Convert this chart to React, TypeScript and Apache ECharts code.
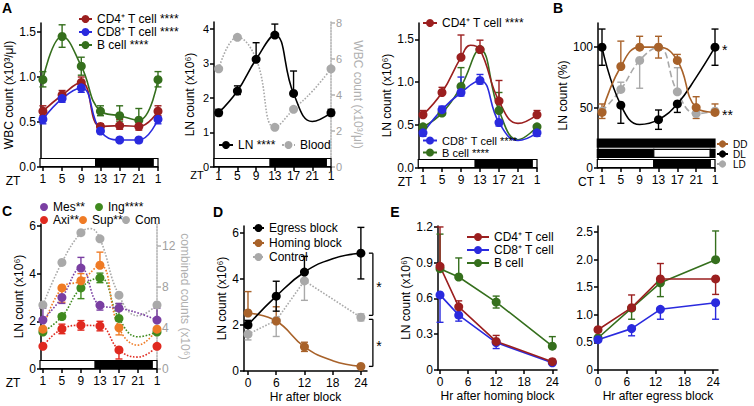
import React, { useEffect, useRef } from "react";
import * as echarts from "echarts";

const FONT = "'Liberation Sans', Arial, Helvetica, sans-serif";

// ---------- colours ----------
const C_CD4 = "#9b1f1f";
const C_CD8 = "#2a2ade";
const C_B = "#356f1d";
const C_GRAY = "#a9a9a9";
const C_BROWN = "#a8622a";
const C_MES = "#7a3fa2";
const C_ING = "#3f8a1e";
const C_AXI = "#e0291f";
const C_SUP = "#ef7b25";

// ---------- tick values ----------
const ztTicks = [1, 5, 9, 13, 17, 21, 25];
const hrTicks = [0, 6, 12, 18, 24];

// ---------- light / dark schedules [startZT, endZT, dark] ----------
const schedLD = [[0, 12, 0], [12, 24, 1], [24, 25, 0]];
const schedDL = [[0, 12, 1], [12, 24, 0], [24, 25, 1]];
const schedDD = [[0, 25, 1]];

// ---------- Panel A1: blood WBC ----------
const a1X = [1, 5, 9, 13, 17, 21, 25];
const a1Cd4 = [0.62, 0.8, 0.94, 0.45, 0.46, 0.45, 0.62];
const a1Cd4Lo = [0.05, 0.04, 0.05, 0.02, 0.04, 0.04, 0.05];
const a1Cd4Hi = [0.06, 0.05, 0.06, 0.03, 0.07, 0.06, 0.06];
const a1Cd8 = [0.53, 0.76, 0.88, 0.4, 0.3, 0.3, 0.53];
const a1Cd8Lo = [0.05, 0.04, 0.05, 0.03, 0.02, 0.03, 0.05];
const a1Cd8Hi = [0.03, 0.03, 0.04, 0.02, 0.02, 0.02, 0.03];
const a1B = [0.97, 1.45, 1.12, 0.62, 0.57, 0.52, 0.97];
const a1BLo = [0.08, 0.12, 0.1, 0.05, 0.06, 0.05, 0.08];
const a1BHi = [0.09, 0.13, 0.1, 0.06, 0.11, 0.13, 0.09];

// ---------- Panel A2: LN vs blood ----------
const a2LnX = [1, 5, 9, 13, 17, 25];
const a2Ln = [1.57, 2.2, 3.12, 3.82, 2.13, 1.57];
const a2LnLo = [0.08, 0.1, 0, 0, 0, 0.08];
const a2LnHi = [0.1, 0.15, 0.48, 0.32, 0.65, 0.1];
const a2LnFitX = [21];
const a2LnFitY = [1.32];
const a2BloodX = [1, 5, 13, 17, 25];
const a2Blood = [5.45, 7.2, 2.2, 3.2, 5.45];
const a2BloodFitX = [9, 21];
const a2BloodFitY = [6.0, 4.2];

// ---------- Panel A3: LN subsets ----------
const a3X = [1, 5, 9, 13, 17, 25];
const a3Cd4 = [0.62, 0.88, 1.29, 1.38, 0.78, 0.62];
const a3Cd4Lo = [0, 0, 0, 0, 0, 0];
const a3Cd4Hi = [0.05, 0.06, 0.26, 0.11, 0.24, 0.05];
const a3Cd4FitX = [11, 21];
const a3Cd4FitY = [1.43, 0.52];
const a3Cd8 = [0.41, 0.68, 0.88, 1.02, 0.53, 0.41];
const a3Cd8Lo = [0.04, 0.03, 0.04, 0.04, 0.04, 0.04];
const a3Cd8Hi = [0, 0.04, 0.18, 0.07, 0.15, 0];
const a3Cd8FitX = [21];
const a3Cd8FitY = [0.32];
const a3B = [0.48, 0.64, 0.95, 1.38, 0.67, 0.48];
const a3BLo = [0, 0.02, 0, 0, 0, 0];
const a3BHi = [0, 0, 0.22, 0, 0.21, 0];
const a3BFitX = [21];
const a3BFitY = [0.33];

// ---------- Panel B: DD / DL / LD ----------
const bX = [1, 5, 9, 13, 17, 21, 25];
const bDD = [46, 84, 100, 100, 89, 50, 46];
const bDDLo = [5, 0, 0, 9, 0, 9, 0];
const bDDHi = [7, 21, 9, 9, 5, 9, 7];
const bDLX = [1, 5, 13, 17, 25];
const bDL = [100, 52, 40, 53, 100];
const bDLLo = [15, 15, 8, 7, 15];
const bDLHi = [15, 0, 8, 0, 15];
const bDLFitX = [9, 21];
const bDLFitY = [36, 75];
const bLD = [47, 65, 89, 100, 63, 45, 47];
const bLDLo = [0, 0, 23, 0, 0, 0, 0];
const bLDHi = [0, 6, 0, 0, 20, 0, 0];

// ---------- Panel C: individual LNs ----------
const cX = [1, 5, 9, 13, 17, 25];
const cMes = [2.05, 3.0, 4.23, 2.67, 2.55, 2.05];
const cMesLo = [0, 0.25, 0, 0.2, 0, 0];
const cMesHi = [0.5, 0, 0.45, 0, 0.2, 0.5];
const cMesFitX = [21];
const cMesFitY = [2.35];
const cIng = [1.55, 2.2, 3.4, 3.82, 2.12, 1.55];
const cIngLo = [0, 0.1, 0.45, 0.2, 0, 0];
const cIngHi = [0, 0.1, 0, 0.2, 0.62, 0];
const cIngFitX = [21];
const cIngFitY = [1.35];
const cAxi = [0.95, 1.68, 1.83, 1.8, 0.8, 0.95];
const cAxiLo = [0.05, 0.2, 0.2, 0.2, 0.38, 0.05];
const cAxiHi = [0.05, 0.2, 0.2, 0.2, 0, 0.05];
const cAxiFitX = [21];
const cAxiFitY = [0.5];
const cSup = [1.67, 3.4, 3.7, 4.35, 1.73, 1.67];
const cSupLo = [0, 0.6, 0, 0, 0.3, 0];
const cSupHi = [0, 0, 0.3, 0.55, 0, 0];
const cSupFitX = [21];
const cSupFitY = [1.0];
const cCom = [6.25, 10.4, 13.3, 12.7, 7.2, 6.25];
const cComFitX = [11, 21];
const cComFitY = [13.7, 5.2];

// ---------- Panel D: egress / homing block ----------
const dX = [0, 6, 12, 24];
const dEg = [2.0, 3.25, 4.3, 5.12];
const dEgLo = [0, 0.65, 0, 1.12];
const dEgHi = [0.2, 0.65, 0.68, 1.12];
const dEgFitX = [18];
const dEgFitY = [4.88];
const dHo = [2.52, 2.17, 1.05, 0.2];
const dHoLo = [0, 0, 0.2, 0];
const dHoHi = [0.93, 0.62, 0.2, 0];
const dHoFitX = [18];
const dHoFitY = [0.45];
const dCt = [1.6, 2.2, 3.92, 2.33];
const dCtLo = [0.25, 0.7, 0.85, 0.15];
const dCtHi = [0.25, 0, 0, 0.15];
const dBrackets = [[24, 5.12, 2.33, 0], [24, 2.33, 0.2, 1]];

// ---------- Panel E1: after homing block ----------
const e1X = [0, 4, 12, 24];
const e1Cd4 = [0.87, 0.53, 0.24, 0.07];
const e1Cd4Lo = [0, 0, 0, 0];
const e1Cd4Hi = [0.33, 0.05, 0.05, 0.02];
const e1Cd8 = [0.63, 0.46, 0.23, 0.06];
const e1Cd8Lo = [0.23, 0.05, 0.05, 0.01];
const e1Cd8Hi = [0, 0, 0, 0];
const e1B = [0.85, 0.78, 0.57, 0.2];
const e1BLo = [0, 0, 0.05, 0];
const e1BHi = [0.29, 0.16, 0.05, 0.08];

// ---------- Panel E2: after egress block ----------
const e2X = [0, 7, 13, 24.5];
const e2Cd4 = [0.73, 1.13, 1.65, 1.65];
const e2Cd4Lo = [0.03, 0, 0, 0.28];
const e2Cd4Hi = [0.03, 0.23, 0.28, 0];
const e2Cd8 = [0.55, 0.75, 1.1, 1.22];
const e2Cd8Lo = [0.02, 0.13, 0.18, 0.3];
const e2Cd8Hi = [0, 0, 0, 0];
const e2B = [0.58, 1.12, 1.58, 2.0];
const e2BLo = [0, 0.2, 0.25, 0];
const e2BHi = [0, 0, 0, 0.52];

// ================= helpers =================
const ztFmt = (v: number) => (v === 25 ? "1" : String(v));
const fix1 = (v: number) => (v === 0 ? "0" : v.toFixed(1));

function xAxis(gi: number, min: number, max: number, ticks: number[], fmt: any, extra: any = {}) {
  return {
    type: "value",
    gridIndex: gi,
    min,
    max,
    axisLine: { show: true, onZero: false, lineStyle: { color: "#000", width: 1.5 } },
    axisTick: { show: true, customValues: ticks, length: 4, lineStyle: { color: "#000", width: 1.5 } },
    axisLabel: { customValues: ticks, formatter: fmt, color: "#000", fontSize: 12, fontFamily: FONT, margin: extra.labelMargin ?? 6 },
    splitLine: { show: false },
    name: extra.name,
    nameLocation: "middle",
    nameGap: extra.nameGap ?? 20,
    nameTextStyle: { color: "#000", fontSize: 12, fontFamily: FONT },
  };
}

function yAxis(gi: number, min: number, max: number, ticks: number[], fmt: any, extra: any = {}) {
  const color = extra.color ?? "#000";
  return {
    type: "value",
    gridIndex: gi,
    position: extra.position ?? "left",
    min,
    max,
    axisLine: { show: true, onZero: false, lineStyle: { color, width: 1.5, type: extra.lineType ?? "solid" } },
    axisTick: { show: true, customValues: ticks, length: 4, lineStyle: { color, width: 1.5 } },
    axisLabel: { customValues: ticks, formatter: fmt, color: extra.labelColor ?? color, fontSize: extra.fontSize ?? 12, fontFamily: FONT, margin: 5 },
    splitLine: { show: false },
    name: extra.name,
    nameLocation: "middle",
    nameGap: extra.nameGap ?? 24,
    nameRotate: extra.nameRotate,
    nameTextStyle: { color: extra.nameColor ?? color, fontSize: 12, fontFamily: FONT },
  };
}

function lineSeries(name: string, xi: number, yi: number, xs: number[], ys: number[], fx: number[] | null, fy: number[] | null, color: string, type: string, smooth: any) {
  const pts: any[] = xs.map((x, i) => ({ value: [x, ys[i]] }));
  const fits: any[] = (fx || []).map((x, i) => ({ value: [x, (fy as number[])[i]], symbol: "none" }));
  const data = [...pts, ...fits].sort((a, b) => a.value[0] - b.value[0]);
  return {
    type: "line",
    name,
    xAxisIndex: xi,
    yAxisIndex: yi,
    data,
    smooth,
    symbol: "circle",
    symbolSize: 9,
    showSymbol: true,
    showAllSymbol: true,
    lineStyle: { color, width: 1.6, type },
    itemStyle: { color },
    emphasis: { disabled: true },
    silent: true,
    z: 3,
  };
}

const renderErr = (params: any, api: any) => {
  const x = api.value(0);
  const lo = api.coord([x, api.value(1)]);
  const hi = api.coord([x, api.value(2)]);
  const color = api.visual("color");
  const st = { stroke: color, lineWidth: 1.4 };
  const ch: any[] = [];
  if (api.value(3) || api.value(4)) {
    ch.push({ type: "line", shape: { x1: lo[0], y1: lo[1], x2: hi[0], y2: hi[1] }, style: st });
  }
  if (api.value(3)) ch.push({ type: "line", shape: { x1: lo[0] - 3.5, y1: lo[1], x2: lo[0] + 3.5, y2: lo[1] }, style: st });
  if (api.value(4)) ch.push({ type: "line", shape: { x1: hi[0] - 3.5, y1: hi[1], x2: hi[0] + 3.5, y2: hi[1] }, style: st });
  return { type: "group", children: ch };
};

function errSeries(xi: number, yi: number, xs: number[], ys: number[], lo: number[], hi: number[], color: string) {
  return {
    type: "custom",
    xAxisIndex: xi,
    yAxisIndex: yi,
    renderItem: renderErr,
    itemStyle: { color },
    data: xs.map((x, i) => [x, ys[i] - lo[i], ys[i] + hi[i], lo[i] > 0 ? 1 : 0, hi[i] > 0 ? 1 : 0]),
    encode: { x: 0, y: [1, 2] },
    clip: false,
    silent: true,
    z: 2,
  };
}

const renderBar = (params: any, api: any) => {
  const cs = params.coordSys;
  const p0 = api.coord([api.value(0), 0]);
  const p1 = api.coord([api.value(1), 0]);
  const x0 = Math.max(p0[0], cs.x - 1);
  const x1 = Math.min(p1[0], cs.x + cs.width);
  const row = api.value(3);
  const bottom = p0[1] - 0.5 - row * 10.2;
  return {
    type: "rect",
    shape: { x: x0, y: bottom - 8, width: x1 - x0, height: 8 },
    style: { fill: api.value(2) ? "#000" : "#fff", stroke: "#000", lineWidth: 1.2 },
  };
};

function barSeries(xi: number, yi: number, sched: number[][], row: number) {
  return {
    type: "custom",
    xAxisIndex: xi,
    yAxisIndex: yi,
    renderItem: renderBar,
    data: sched.map((s) => [s[0], s[1], s[2], row]),
    encode: { x: [0, 1], y: 2 },
    clip: false,
    silent: true,
    z: 4,
  };
}

const renderBracket = (params: any, api: any) => {
  const p1 = api.coord([api.value(0), api.value(1)]);
  const p2 = api.coord([api.value(0), api.value(2)]);
  const lower = api.value(3);
  const x = p1[0] + 12;
  const y1 = p1[1] + (lower ? 2 : 0);
  const y2 = p2[1] - (lower ? 0 : 2);
  const st = { stroke: "#000", lineWidth: 1.3 };
  return {
    type: "group",
    children: [
      { type: "line", shape: { x1: x, y1, x2: x, y2 }, style: st },
      { type: "line", shape: { x1: x - 4, y1, x2: x, y2: y1 }, style: st },
      { type: "line", shape: { x1: x - 4, y1: y2, x2: x, y2 }, style: st },
      { type: "text", x: x + 6, y: (y1 + y2) / 2 + 3, style: { text: "*", fill: "#000", font: `14px ${FONT}`, align: "center", verticalAlign: "middle" } },
    ],
  };
};

function leg(name: string, left: number, top: number, w: number, h: number, icon?: string, fontSize = 12) {
  return {
    show: true,
    left,
    top,
    orient: "horizontal",
    padding: 0,
    itemGap: 0,
    itemWidth: w,
    itemHeight: h,
    selectedMode: false,
    textStyle: { fontSize, color: "#000", fontFamily: FONT },
    data: [icon ? { name, icon } : name],
  };
}

function txt(text: string, x: number, y: number, opts: any = {}) {
  return {
    type: "text",
    x,
    y,
    silent: true,
    style: {
      text,
      fill: opts.fill ?? "#000",
      font: `${opts.bold ? "bold " : ""}${opts.size ?? 12}px ${FONT}`,
      align: opts.align ?? "center",
      verticalAlign: "middle",
    },
  };
}

function buildOption() {
  const grids = [
    { left: 41, top: 23, width: 117, height: 144 }, // A1
    { left: 214, top: 22, width: 117, height: 145 }, // A2
    { left: 419, top: 23, width: 118, height: 145 }, // A3
    { left: 598, top: 23, width: 117, height: 145 }, // B
    { left: 41, top: 224, width: 116, height: 145 }, // C
    { left: 244, top: 226, width: 123, height: 145 }, // D
    { left: 438, top: 226, width: 119, height: 144 }, // E1
    { left: 598, top: 226, width: 120, height: 144 }, // E2
  ].map((g) => ({ ...g, containLabel: false, outerBoundsMode: "none" }));

  const xAxes = [
    xAxis(0, 0.6, 25, ztTicks, ztFmt),
    xAxis(1, 0, 25, ztTicks, ztFmt, { labelMargin: 3 }),
    xAxis(2, 0.16, 25, ztTicks, ztFmt),
    xAxis(3, 0.15, 25, ztTicks, ztFmt),
    xAxis(4, 0.6, 25, ztTicks, ztFmt),
    xAxis(5, -0.85, 25.3, hrTicks, String, { name: "Hr after block", nameGap: 20 }),
    xAxis(6, -0.43, 25, hrTicks, String, { name: "Hr after homing block", nameGap: 20 }),
    xAxis(7, 0, 25, hrTicks, String, { name: "Hr after egress block", nameGap: 20 }),
  ];

  const yAxes = [
    yAxis(0, 0, 1.6, [0, 0.5, 1, 1.5], (v: number) => v.toFixed(1), { name: "WBC count (x10³/μl)", nameGap: 23 }),
    yAxis(1, 0, 4.2, [0, 1, 2, 3, 4], String, { name: "LN count (x10⁶)", nameGap: 18, fontSize: 11 }),
    yAxis(1, 0, 8.05, [0, 2, 4, 6, 8], String, {
      position: "right", color: "#b0b0b0", labelColor: "#a0a0a0", lineType: "dotted",
      name: "WBC count (x10³/μl)", nameGap: 21, nameRotate: -90, fontSize: 11,
    }),
    yAxis(2, 0, 1.69, [0, 0.5, 1, 1.5], (v: number) => v.toFixed(1), { name: "LN count (x10⁶)", nameGap: 23 }),
    yAxis(3, 0, 120, [0, 50, 100], String, { name: "LN count (%)", nameGap: 24 }),
    yAxis(4, 0, 6.08, [0, 2, 4, 6], String, { name: "LN count (x10⁶)", nameGap: 14 }),
    yAxis(4, 0, 14.15, [0, 4, 8, 12], String, {
      position: "right", color: "#b0b0b0", labelColor: "#a0a0a0", lineType: "dotted",
      name: "combined counts (x10⁶)", nameGap: 22, nameRotate: -90,
    }),
    yAxis(5, 0, 6.3, [0, 2, 4, 6], String, { name: "LN count (x10⁶)", nameGap: 12 }),
    yAxis(6, 0, 1.208, [0, 0.3, 0.6, 0.9, 1.2], fix1, { name: "LN count (x10⁶)", nameGap: 22 }),
    yAxis(7, 0, 2.61, [0, 0.5, 1, 1.5, 2, 2.5], fix1, {}),
  ];

  const S = 0.45;
  const series: any[] = [
    // light/dark bars
    barSeries(0, 0, schedLD, 0),
    barSeries(1, 1, schedLD, 0),
    barSeries(2, 3, schedLD, 0),
    barSeries(3, 4, schedLD, 0),
    barSeries(3, 4, schedDL, 1),
    barSeries(3, 4, schedDD, 2),
    barSeries(4, 5, schedLD, 0),

    // A1
    errSeries(0, 0, a1X, a1B, a1BLo, a1BHi, C_B),
    errSeries(0, 0, a1X, a1Cd4, a1Cd4Lo, a1Cd4Hi, C_CD4),
    errSeries(0, 0, a1X, a1Cd8, a1Cd8Lo, a1Cd8Hi, C_CD8),
    lineSeries("B cell ****", 0, 0, a1X, a1B, null, null, C_B, "solid", S),
    lineSeries("CD4⁺ T cell ****", 0, 0, a1X, a1Cd4, null, null, C_CD4, "solid", S),
    lineSeries("CD8⁺ T cell ****", 0, 0, a1X, a1Cd8, null, null, C_CD8, "solid", S),

    // A2
    lineSeries("Blood", 1, 2, a2BloodX, a2Blood, a2BloodFitX, a2BloodFitY, C_GRAY, "dotted", S),
    errSeries(1, 1, a2LnX, a2Ln, a2LnLo, a2LnHi, "#000"),
    lineSeries("LN ****", 1, 1, a2LnX, a2Ln, a2LnFitX, a2LnFitY, "#000", "solid", S),

    // A3
    errSeries(2, 3, a3X, a3B, a3BLo, a3BHi, C_B),
    errSeries(2, 3, a3X, a3Cd8, a3Cd8Lo, a3Cd8Hi, C_CD8),
    errSeries(2, 3, a3X, a3Cd4, a3Cd4Lo, a3Cd4Hi, C_CD4),
    lineSeries("B cell ****", 2, 3, a3X, a3B, a3BFitX, a3BFitY, C_B, "solid", S),
    lineSeries("CD8⁺ T cell ****", 2, 3, a3X, a3Cd8, a3Cd8FitX, a3Cd8FitY, C_CD8, "solid", S),
    lineSeries("CD4⁺ T cell ****", 2, 3, a3X, a3Cd4, a3Cd4FitX, a3Cd4FitY, C_CD4, "solid", S),

    // B
    errSeries(3, 4, bX, bLD, bLDLo, bLDHi, C_GRAY),
    lineSeries("LD", 3, 4, bX, bLD, null, null, C_GRAY, "dashed", S),
    errSeries(3, 4, bDLX, bDL, bDLLo, bDLHi, "#000"),
    lineSeries("DL", 3, 4, bDLX, bDL, bDLFitX, bDLFitY, "#000", "solid", S),
    errSeries(3, 4, bX, bDD, bDDLo, bDDHi, C_BROWN),
    lineSeries("DD", 3, 4, bX, bDD, null, null, C_BROWN, "solid", S),

    // C
    lineSeries("Com", 4, 6, cX, cCom, cComFitX, cComFitY, C_GRAY, "dotted", S),
    errSeries(4, 5, cX, cAxi, cAxiLo, cAxiHi, C_AXI),
    lineSeries("Axi**", 4, 5, cX, cAxi, cAxiFitX, cAxiFitY, C_AXI, "dotted", S),
    errSeries(4, 5, cX, cIng, cIngLo, cIngHi, C_ING),
    lineSeries("Ing****", 4, 5, cX, cIng, cIngFitX, cIngFitY, C_ING, "dotted", S),
    errSeries(4, 5, cX, cSup, cSupLo, cSupHi, C_SUP),
    lineSeries("Sup**", 4, 5, cX, cSup, cSupFitX, cSupFitY, C_SUP, "dotted", S),
    errSeries(4, 5, cX, cMes, cMesLo, cMesHi, C_MES),
    lineSeries("Mes**", 4, 5, cX, cMes, cMesFitX, cMesFitY, C_MES, "dotted", S),

    // D
    errSeries(5, 7, dX, dCt, dCtLo, dCtHi, C_GRAY),
    lineSeries("Control", 5, 7, dX, dCt, null, null, C_GRAY, "dotted", false),
    errSeries(5, 7, dX, dHo, dHoLo, dHoHi, C_BROWN),
    lineSeries("Homing block", 5, 7, dX, dHo, dHoFitX, dHoFitY, C_BROWN, "solid", S),
    errSeries(5, 7, dX, dEg, dEgLo, dEgHi, "#000"),
    lineSeries("Egress block", 5, 7, dX, dEg, dEgFitX, dEgFitY, "#000", "solid", S),
    {
      type: "custom", xAxisIndex: 5, yAxisIndex: 7, renderItem: renderBracket,
      data: dBrackets, encode: { x: 0, y: [1, 2] }, clip: false, silent: true, z: 5,
    },

    // E1
    errSeries(6, 8, e1X, e1B, e1BLo, e1BHi, C_B),
    errSeries(6, 8, e1X, e1Cd8, e1Cd8Lo, e1Cd8Hi, C_CD8),
    errSeries(6, 8, e1X, e1Cd4, e1Cd4Lo, e1Cd4Hi, C_CD4),
    lineSeries("B cell", 6, 8, e1X, e1B, null, null, C_B, "solid", false),
    lineSeries("CD8⁺ T cell", 6, 8, e1X, e1Cd8, null, null, C_CD8, "solid", false),
    lineSeries("CD4⁺ T cell", 6, 8, e1X, e1Cd4, null, null, C_CD4, "solid", false),

    // E2
    errSeries(7, 9, e2X, e2B, e2BLo, e2BHi, C_B),
    errSeries(7, 9, e2X, e2Cd8, e2Cd8Lo, e2Cd8Hi, C_CD8),
    errSeries(7, 9, e2X, e2Cd4, e2Cd4Lo, e2Cd4Hi, C_CD4),
    lineSeries("B cell", 7, 9, e2X, e2B, null, null, C_B, "solid", false),
    lineSeries("CD8⁺ T cell", 7, 9, e2X, e2Cd8, null, null, C_CD8, "solid", false),
    lineSeries("CD4⁺ T cell", 7, 9, e2X, e2Cd4, null, null, C_CD4, "solid", false),
  ];

  const legend = [
    // A1
    leg("CD4⁺ T cell ****", 78, 13, 13, 10),
    leg("CD8⁺ T cell ****", 78, 26, 13, 10),
    leg("B cell ****", 78, 39, 13, 10),
    // A2
    leg("LN ****", 218, 139, 14, 10),
    leg("Blood", 281, 139, 13, 10),
    // A3
    leg("CD4⁺ T cell ****", 422, 17, 14, 10),
    leg("CD8⁺ T cell ****", 422, 135, 14, 10, undefined, 11),
    leg("B cell ****", 422, 147, 14, 10, undefined, 11),
    // B
    leg("DD", 716, 139, 11, 9, undefined, 10),
    leg("DL", 716, 149, 11, 9, undefined, 10),
    leg("LD", 716, 159, 11, 9, undefined, 10),
    // C
    leg("Mes**", 40, 201, 8, 8, "circle"),
    leg("Ing****", 95, 201, 8, 8, "circle"),
    leg("Axi**", 40, 214, 8, 8, "circle"),
    leg("Sup**", 79, 214, 8, 8, "circle"),
    leg("Com", 122, 214, 8, 8, "circle"),
    // D
    leg("Egress block", 252, 222, 11, 10),
    leg("Homing block", 252, 237, 11, 10),
    leg("Control", 252, 251, 11, 10),
    // E1
    leg("CD4⁺ T cell", 466, 231, 22, 10),
    leg("CD8⁺ T cell", 466, 244, 22, 10),
    leg("B cell", 466, 257, 22, 10),
  ];

  const graphic = [
    txt("A", 7, 8, { bold: true, size: 14 }),
    txt("B", 558, 8, { bold: true, size: 14 }),
    txt("C", 7, 211, { bold: true, size: 14 }),
    txt("D", 218, 212, { bold: true, size: 14 }),
    txt("E", 395, 212, { bold: true, size: 14 }),
    txt("ZT", 13, 181),
    txt("ZT", 197, 175, { size: 11 }),
    txt("ZT", 405, 182),
    txt("CT", 586, 182),
    txt("ZT", 13, 383),
    txt("*", 722, 50, { align: "left", size: 14 }),
    txt("**", 722, 115, { align: "left", size: 14 }),
  ];

  return {
    animation: false,
    backgroundColor: "#fff",
    textStyle: { fontFamily: FONT },
    grid: grids,
    xAxis: xAxes,
    yAxis: yAxes,
    legend,
    series,
    graphic,
  };
}

export default function App() {
  const ref = useRef<HTMLDivElement>(null);
  useEffect(() => {
    if (!ref.current) return;
    const chart = echarts.init(ref.current, null, { renderer: "svg" });
    chart.setOption(buildOption() as any);
    return () => chart.dispose();
  }, []);
  return (
    <div
      ref={ref}
      style={{ position: "absolute", left: 0, top: 0, width: 754, height: 406, background: "#fff" }}
    />
  );
}
